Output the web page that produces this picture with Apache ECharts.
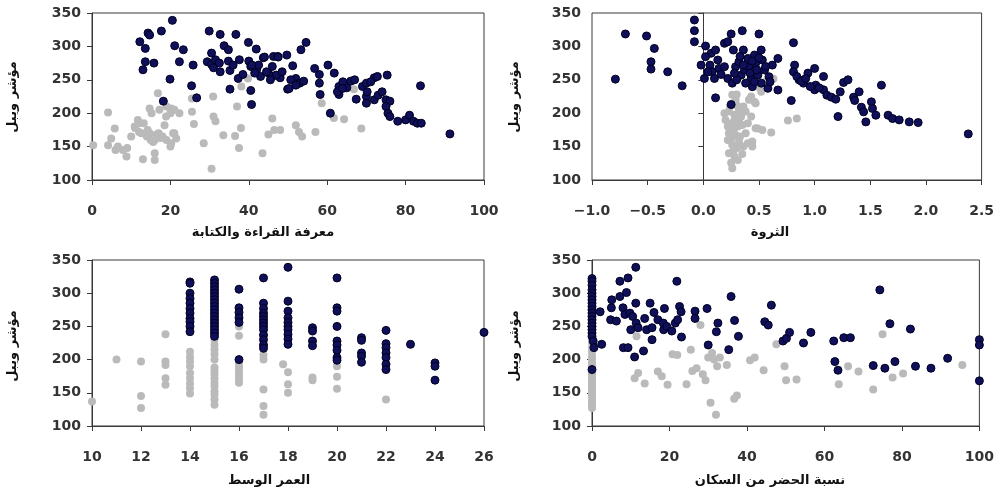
<!DOCTYPE html>
<html>
<head>
<meta charset="utf-8">
<script src="https://cdn.jsdelivr.net/npm/echarts@6/dist/echarts.min.js"></script>
<style>
  html, body { margin: 0; padding: 0; background: #fff; }
  #chart { width: 997px; height: 498px; }
</style>
</head>
<body>
<div id="chart"></div>
<script>
// عنوان المحور الرأسي وعناوين المحاور الأفقية
var yTitle = 'مؤشر ويبل';
var xTitles = ['معرفة القراءة والكتابة', 'الثروة', 'العمر الوسط', 'نسبة الحضر من السكان'];

// 1) معرفة القراءة والكتابة
var literacyHigh = [[12.2,307],[14.3,320],[14.7,317],[13.6,297],[13.6,277],[13,265],[15.8,275],[17.7,323],[20.5,339],[21.1,301],[23.3,295],[22.3,277],[19.9,251],[18.2,218],[25.4,241],[25.8,272],[26.7,223],[29.9,323],[32.7,318],[36.7,318],[30.5,290],[29.4,277],[30.5,273],[31.5,280],[31,268],[32.5,275],[32.7,262],[33.7,301],[34.8,295],[34.8,278],[35.2,264],[35.2,236],[36,272],[37.6,280],[37.3,252],[38.5,258],[39.9,306],[41.9,296],[40,278],[40.5,270],[40.5,234],[40.7,213],[42,265],[43,255],[41.5,260],[43.7,283],[45,260],[46.3,285],[47.4,285],[46,255],[48,253],[49.7,287],[49.9,236],[51.2,271],[52,252],[53,245],[54,248],[53.3,295],[54.6,306],[56.8,267],[58,258],[58,245],[58.2,228],[60.2,272],[60.8,200],[61.8,260],[63,240],[63,228],[64,247],[65,238],[66,248],[67,250],[67.4,221],[69,240],[70,245],[70,225],[70,215],[72,253],[72,220],[73,227],[74,232],[75.3,257],[75,220],[76,218],[75,210],[75.5,200],[76,195],[78,188],[80,190],[81,197],[82,188],[83,185],[84,185],[83.8,241],[91.3,169],[42.5,272],[44.5,262],[46,270],[47,257],[48.5,262],[40.8,272],[44,284],[47.5,284],[45.5,250],[50.7,250],[50.3,237],[52,242],[62.6,232],[63.9,237],[70.2,232],[71.1,247],[72.8,255]];
var literacyLow = [[0.3,152],[4.1,201],[5.8,177],[4.9,162],[4.1,152],[6.6,150],[7.9,145],[8.8,135],[10,165],[10.9,180],[11.7,190],[12.2,185],[12.6,170],[13,131],[14.7,207],[14.7,170],[15.6,157],[16,140],[16,130],[16.8,230],[17.2,205],[17,170],[17.5,163],[18.5,182],[18.9,195],[20.2,207],[20.7,170],[20.2,155],[22.3,200],[21.5,162],[14,165],[14.2,175],[15,160],[15.2,200],[16,160],[16.5,168],[18,165],[19,210],[19,160],[20,200],[20,150],[21,205],[21,170],[12,172],[13.2,185],[11,178],[9,148],[6,145],[25.5,222],[25.5,202],[26,184],[28.5,155],[30.9,225],[31,195],[31.5,188],[30.5,117],[33.5,167],[36.5,166],[37,210],[37.5,148],[38,178],[38.1,240],[39.8,252],[43.5,140],[45,168],[46,192],[46.5,175],[48,175],[52,182],[52.8,172],[53.6,165],[57,172],[58.6,215],[61.7,193],[64.3,191],[66.8,236],[68.7,177]];

// 2) الثروة
var wealthHigh = [[-0.79,251],[-0.70,318.6],[-0.51,315.6],[-0.44,297],[-0.47,277],[-0.47,266],[-0.32,262],[-0.19,241],[-0.08,339.5],[-0.08,323.5],[-0.08,307],[-0.02,272],[0.02,300.6],[0.01,252],[0.07,289.7],[0.11,294.6],[0.06,272],[0.08,262],[0.13,279.6],[0.14,267],[0.10,252],[0.11,223],[0.19,304.6],[0.22,307],[0.25,318.6],[0.27,294.6],[0.22,252],[0.26,245],[0.25,213],[0.29,269.6],[0.32,277],[0.35,323.5],[0.36,294.6],[0.34,257],[0.37,264.7],[0.40,282],[0.41,269.6],[0.43,252],[0.44,239.7],[0.46,287],[0.47,274.7],[0.49,257],[0.50,318.6],[0.52,294.6],[0.53,279.6],[0.55,264.7],[0.58,237.3],[0.59,254.6],[0.62,272],[0.67,282],[0.67,234.7],[0.46,247],[0.19,269.6],[0.02,284.6],[0.30,250],[0.38,245],[0.42,260],[0.48,265],[0.33,285],[0.28,260],[0.52,245],[0.56,270],[0.60,247],[0.16,258],[0.04,262],[0.36,272],[0.44,278],[0.50,283],[0.81,305.5],[0.82,272],[0.81,262],[0.86,250],[0.84,255],[0.90,245],[0.94,260],[1.00,267],[1.00,235],[1.01,242],[0.96,240],[1.08,255],[1.08,235],[1.11,227],[1.15,224],[1.19,221],[1.23,232],[1.26,246],[1.30,250],[1.21,195],[1.35,224],[1.36,219],[1.40,232],[1.42,209],[1.44,202],[1.46,187],[1.51,217],[1.52,207],[1.55,197],[1.60,242],[1.66,197],[1.70,192],[1.76,190],[1.85,187],[1.93,186],[2.38,169],[0.79,219],[0.88,248],[0.92,252],[1.04,238]];
var wealthLow = [[0.26,227.5],[0.29,220],[0.23,202.5],[0.28,197.5],[0.32,205],[0.38,202.5],[0.43,195],[0.26,185],[0.31,180],[0.35,182.5],[0.23,170],[0.29,167.5],[0.38,170],[0.22,160],[0.26,152.5],[0.32,157.5],[0.40,155],[0.44,157.5],[0.23,140],[0.28,135],[0.35,139],[0.25,126],[0.26,117.5],[0.44,150],[0.47,177.5],[0.53,175],[0.61,171],[0.43,225],[0.47,215],[0.50,239],[0.56,247.5],[0.63,251.5],[0.76,189],[0.84,192],[0.19,200],[0.20,190],[0.32,190],[0.52,232],[0.46,217],[0.49,177],[0.24,210],[0.30,212],[0.27,175],[0.33,165],[0.25,162],[0.30,148],[0.36,150],[0.27,143],[0.31,130],[0.34,195],[0.40,185],[0.22,180],[0.28,190],[0.36,210],[0.41,220],[0.30,228]];

// 3) العمر الوسط
var ageHigh = [[14,317],[14,315],[14,300],[14,292],[14,285],[14,277],[14,270],[14,262],[14,257],[14,250],[14,242],[15,320],[15,315],[15,310],[15,305],[15,300],[15,295],[15,290],[15,285],[15,280],[15,275],[15,270],[15,265],[15,260],[15,255],[15,250],[15,245],[15,240],[15,235],[16,306],[16,278],[16,271],[16,263],[16,256],[16,200],[17,323],[17,285],[17,277],[17,270],[17,265],[17,260],[17,255],[17,250],[17,245],[17,237],[17,230],[17,222],[17,217],[18,339],[18,288],[18,273],[18,263],[18,256],[18,250],[18,245],[18,238],[18,231],[18,223],[19,248],[19,243],[19,228],[19,221],[20,323],[20,278],[20,273],[20,250],[20,228],[20,222],[20,214],[20,203],[20,199],[21,233],[21,229],[21,210],[21,205],[21,196],[22,244],[22,224],[22,218],[22,210],[22,203],[22,193],[22,185],[23,223],[24,195],[24,190],[24,169],[26,241]];
var ageLow = [[10,137],[11,200],[12,197],[12,145],[12,127],[13,238],[13,197],[13,192],[13,172],[13,162],[14,212],[14,204],[14,197],[14,190],[14,180],[14,172],[14,164],[14,157],[14,149],[15,230],[15,222],[15,215],[15,208],[15,200],[15,188],[15,183],[15,178],[15,172],[15,165],[15,160],[15,152],[15,147],[15,140],[15,132],[16,250],[16,236],[16,195],[16,190],[16,185],[16,180],[16,175],[16,170],[16,165],[17,207],[17,200],[17,155],[17,130],[17,117],[17.8,193],[18,181],[18,163],[18,150],[19,173],[19,169],[20,190],[20,174],[20,156],[22,140]];

// 4) نسبة الحضر من السكان
var urbanHigh = [[0,322],[0,318],[0,312],[0,305],[0,300],[0,295],[0,290],[0,285],[0,280],[0,275],[0,270],[0,265],[0,260],[0,255],[0,250],[0,245],[0,240],[0,235],[0.3,228],[0.5,218],[0,185],[2.1,272],[2.5,223],[5.1,290],[5,278],[4.8,260],[6.3,258],[7.2,318],[7.2,295],[8,278],[8.5,268],[8.1,218],[9.3,218],[9.3,323],[8.9,301],[9.8,270],[10,245],[10.5,265],[11.3,339],[11.3,285],[11.4,255],[11,204],[11.9,248],[13.6,262],[13.3,213],[14.1,245],[15,285],[15.5,248],[15.5,230],[16,271],[17,260],[18.7,277],[18.4,255],[18.5,245],[19.3,250],[20.6,243],[21.5,255],[21.9,318],[22.1,260],[22.6,280],[23,272],[23.1,234],[26.6,273],[26.6,262],[29.7,277],[30,222],[32.5,255],[32.1,242],[35.3,215],[35.9,295],[36.8,259],[37.8,235],[44.6,257],[45.5,252],[46.3,282],[49.3,228],[50.2,232],[51,241],[54.6,225],[56.5,241],[62.4,228],[62.7,197],[63.5,184],[65,233],[66.7,233],[72.6,191],[74.3,305],[75.6,187],[76.9,254],[78.2,197],[82.2,246],[83.5,190],[87.5,187],[91.8,202],[100,230],[100,222],[100,168]];
var urbanLow = [[0,232],[0,225],[0,218],[0,212],[0,205],[0,200],[0,195],[0,190],[0,185],[0,180],[0,175],[0,170],[0,165],[0,160],[0,155],[0,150],[0,145],[0,140],[0,135],[0,130],[0,127],[11.5,235],[11.9,180],[11,172],[13.6,164],[17,182],[18,175],[19.5,162],[20.8,208],[22,207],[24.4,163],[25.5,215],[25.9,183],[27,187],[28,252],[28.6,178],[29.3,169],[30,203],[31,210],[31.5,200],[30.6,135],[32,117],[32.3,190],[33,203],[34.8,192],[36.7,141],[37.4,146],[40.8,199],[42,203],[44.3,184],[47.6,223],[49.7,190],[50.1,169],[52.8,170],[63.7,163],[66.1,190],[68.8,182],[72.6,155],[75,238],[77.6,173],[80.3,179],[95.6,192]];

var xRanges = [[0, 100, 20], [-1, 2.5, 0.5], [10, 26, 2], [0, 100, 20]];
var highSets = [literacyHigh, wealthHigh, ageHigh, urbanHigh];
var lowSets = [literacyLow, wealthLow, ageLow, urbanLow];

var boxes = [
  { left: 92, top: 13, width: 392, height: 167 },
  { left: 592, top: 13, width: 391, height: 167 },
  { left: 92, top: 260, width: 392, height: 166 },
  { left: 592, top: 260, width: 391, height: 166 }
];
var titlePos = [[263, 233], [770, 233], [269, 481], [770, 481]];
var yTitlePos = [[13, 97], [515, 97], [13, 346], [515, 346]];

var lineCol = '#3a3a3a';
var labelStyle = { color: '#333', fontSize: 14, fontWeight: 'bold', fontFamily: 'DejaVu Sans, sans-serif' };

var grids = [], xAxes = [], yAxes = [], series = [], graphics = [];
for (var i = 0; i < 4; i++) {
  grids.push(Object.assign({ show: true, borderColor: lineCol, borderWidth: 1 }, boxes[i]));
  xAxes.push({
    type: 'value', gridIndex: i,
    min: xRanges[i][0], max: xRanges[i][1], interval: xRanges[i][2],
    axisLine: { show: true, lineStyle: { color: lineCol } },
    axisTick: { show: true, length: 5, lineStyle: { color: lineCol } },
    axisLabel: Object.assign({
      margin: 24,
      formatter: i === 1 ? function (v) { return (v < 0 ? '\u2212' : '') + Math.abs(v).toFixed(1); } : null
    }, labelStyle),
    splitLine: { show: false }
  });
  yAxes.push({
    type: 'value', gridIndex: i, min: 100, max: 350, interval: 50,
    axisLine: { show: true, lineStyle: { color: lineCol } },
    axisTick: { show: true, length: 5, lineStyle: { color: lineCol } },
    axisLabel: Object.assign({ margin: 11 }, labelStyle),
    splitLine: { show: false }
  });
  series.push({
    type: 'scatter', xAxisIndex: i, yAxisIndex: i, data: lowSets[i],
    symbolSize: 8, itemStyle: { color: '#bababa', opacity: 1 }, silent: true
  });
  series.push({
    type: 'scatter', xAxisIndex: i, yAxisIndex: i, data: highSets[i],
    symbolSize: 8, itemStyle: { color: '#0f0f5a', borderColor: '#000022', borderWidth: 1, opacity: 1 }, silent: true
  });
  graphics.push({
    type: 'text', x: titlePos[i][0], y: titlePos[i][1],
    style: { text: xTitles[i], fill: '#111', font: 'bold 13px "DejaVu Sans"', align: 'center', verticalAlign: 'middle' }
  });
  graphics.push({
    type: 'text', x: yTitlePos[i][0], y: yTitlePos[i][1], rotation: Math.PI / 2,
    style: { text: yTitle, fill: '#111', font: 'bold 13px "DejaVu Sans"', align: 'center', verticalAlign: 'middle' }
  });
}

var chart = echarts.init(document.getElementById('chart'));
chart.setOption({
  animation: false,
  backgroundColor: '#fff',
  grid: grids,
  xAxis: xAxes,
  yAxis: yAxes,
  series: series,
  graphic: graphics
});
</script>
</body>
</html>
